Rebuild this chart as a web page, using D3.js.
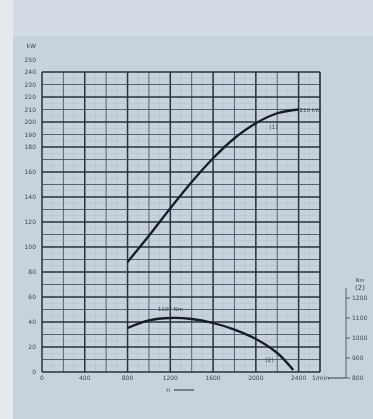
<!DOCTYPE html>
<html><head><meta charset="utf-8">
<script src="https://cdn.jsdelivr.net/npm/d3@7"></script>
<style>html,body{margin:0;padding:0;background:#cad4de;}svg{display:block;}</style>
</head><body>
<script>
// Engine speed (1/min) for power curve (1)
const rpm = [800, 1000, 1200, 1400, 1600, 1800, 2000, 2200, 2400];
// Power (kW) - curve (1)
const powerKW = [88, 109, 131, 152, 171, 187, 199, 207, 210];
// Engine speed (1/min) for torque curve (2)
const torqueRpm = [800, 1000, 1200, 1400, 1600, 1800, 2000, 2200, 2350];
// Torque (Nm) - curve (2)
const torqueNm = [1050, 1088, 1100, 1095, 1075, 1042, 995, 925, 840];
// Axis tick labels
const xTicks = [0, 400, 800, 1200, 1600, 2000, 2400];
const powerTicks = [0, 20, 40, 60, 80, 100, 120, 140, 160, 180, 190, 200, 210, 220, 230, 240, 250];
const torqueTicks = [800, 900, 1000, 1100, 1200];
const powerLabel = "210 kW";
const torqueLabel = "1100 Nm";

const W = 373, H = 419;
const svg = d3.select("body").append("svg").attr("width", W).attr("height", H);
const defs = svg.append("defs");
defs.append("filter").attr("id", "soft").append("feGaussianBlur").attr("stdDeviation", 0.35);

svg.append("rect").attr("width", W).attr("height", H).attr("fill", "#c8d2dc");
svg.append("rect").attr("width", 13).attr("height", H).attr("fill", "#e4e9ee");
svg.append("rect").attr("x", 13).attr("width", W - 13).attr("height", 36).attr("fill", "#d3dbe4");

const g = svg.append("g").attr("filter", "url(#soft)");

const x = d3.scaleLinear().domain([0, 2600]).range([42, 320]);
const y = d3.scaleLinear().domain([0, 240]).range([372, 72]);
const yT = d3.scaleLinear().domain([800, 1300]).range([378, 278]);

// grid
const grid = g.append("g");
const fineX = d3.range(0, 2601, 100), fineY = d3.range(0, 241, 5);
grid.selectAll("line.fx").data(fineX).join("line")
  .attr("x1", d => x(d)).attr("x2", d => x(d)).attr("y1", y(0)).attr("y2", y(240))
  .attr("stroke", d => d % 400 === 0 ? "#27303c" : d % 200 === 0 ? "#4a5564" : "#8f9aa8")
  .attr("stroke-width", d => d % 400 === 0 ? 1.5 : d % 200 === 0 ? 0.9 : 0.5)
  .attr("stroke-opacity", d => d % 200 === 0 ? 1 : 0.4);
grid.selectAll("line.fy").data(fineY).join("line")
  .attr("y1", d => y(d)).attr("y2", d => y(d)).attr("x1", x(0)).attr("x2", x(2600))
  .attr("stroke", d => d % 20 === 0 ? "#27303c" : d % 10 === 0 ? "#4a5564" : "#8f9aa8")
  .attr("stroke-width", d => d % 20 === 0 ? 1.5 : d % 10 === 0 ? 0.9 : 0.5)
  .attr("stroke-opacity", d => d % 10 === 0 ? 1 : 0.4);
grid.append("line").attr("x1", x(2600)).attr("x2", x(2600)).attr("y1", y(0)).attr("y2", y(240))
  .attr("stroke", "#27303c").attr("stroke-width", 1.5);

const txt = "#3b4553";
const font = "DejaVu Sans, sans-serif";

// left axis labels
g.selectAll("text.yl").data(powerTicks).join("text")
  .attr("x", 36).attr("y", d => y(d) + 2).attr("text-anchor", "end")
  .attr("font-size", 6).attr("font-family", font).attr("fill", txt).text(d => d);
g.append("text").attr("x", 36).attr("y", 48).attr("text-anchor", "end")
  .attr("font-size", 6).attr("font-family", font).attr("fill", txt).text("kW");

// x axis labels
g.selectAll("text.xl").data(xTicks).join("text")
  .attr("x", d => x(d)).attr("y", 380).attr("text-anchor", "middle")
  .attr("font-size", 6).attr("font-family", font).attr("fill", txt).text(d => d);
g.append("text").attr("x", 312).attr("y", 380).attr("text-anchor", "start")
  .attr("font-size", 6).attr("font-family", font).attr("fill", txt).text("1/min");
g.append("line").attr("x1", 328).attr("x2", 346).attr("y1", 378).attr("y2", 378)
  .attr("stroke", txt).attr("stroke-width", 1);
g.append("text").attr("x", 170).attr("y", 392).attr("text-anchor", "end")
  .attr("font-size", 6).attr("font-family", font).attr("fill", txt).text("n");
g.append("line").attr("x1", 174).attr("x2", 194).attr("y1", 390).attr("y2", 390)
  .attr("stroke", txt).attr("stroke-width", 1.2);

// right torque axis
const ra = g.append("g");
ra.append("line").attr("x1", 346).attr("x2", 346).attr("y1", yT(1250)).attr("y2", yT(800))
  .attr("stroke", txt).attr("stroke-width", 0.8);
ra.selectAll("line.rt").data(torqueTicks).join("line")
  .attr("x1", 346).attr("x2", 350).attr("y1", d => yT(d)).attr("y2", d => yT(d))
  .attr("stroke", txt).attr("stroke-width", 0.8);
ra.selectAll("text.rl").data(torqueTicks).join("text")
  .attr("x", 352).attr("y", d => yT(d) + 2).attr("text-anchor", "start")
  .attr("font-size", 6).attr("font-family", font).attr("fill", txt).text(d => d);
ra.append("text").attr("x", 360).attr("y", 290).attr("text-anchor", "middle")
  .attr("font-size", 7).attr("font-family", font).attr("fill", txt).text("(2)");
ra.append("text").attr("x", 360).attr("y", 282).attr("text-anchor", "middle")
  .attr("font-size", 5).attr("font-family", font).attr("fill", txt).text("Nm");

// curves
const pData = rpm.map((r, i) => [r, powerKW[i]]);
const tData = torqueRpm.map((r, i) => [r, torqueNm[i]]);
g.append("path").datum(pData)
  .attr("d", d3.line().x(d => x(d[0])).y(d => y(d[1])).curve(d3.curveCatmullRom))
  .attr("fill", "none").attr("stroke", "#161c2a").attr("stroke-width", 2.3);
g.append("path").datum(tData)
  .attr("d", d3.line().x(d => x(d[0])).y(d => yT(d[1])).curve(d3.curveCatmullRom))
  .attr("fill", "none").attr("stroke", "#161c2a").attr("stroke-width", 2.3);

// curve labels
g.append("text").attr("x", x(2400) + 1).attr("y", y(210) + 2).attr("text-anchor", "start")
  .attr("font-size", 5.5).attr("font-family", font).attr("fill", txt).text(powerLabel);
g.append("text").attr("x", x(2200) - 8).attr("y", y(196) + 2).attr("text-anchor", "start")
  .attr("font-size", 6).attr("font-family", font).attr("fill", txt).text("(1)");
g.append("text").attr("x", x(1200)).attr("y", yT(1100) - 7).attr("text-anchor", "middle")
  .attr("font-size", 5.5).attr("font-family", font).attr("fill", txt).text(torqueLabel);
g.append("text").attr("x", x(2200) - 12).attr("y", yT(900) + 4).attr("text-anchor", "start")
  .attr("font-size", 6).attr("font-family", font).attr("fill", txt).text("(2)");
</script>
</body></html>
